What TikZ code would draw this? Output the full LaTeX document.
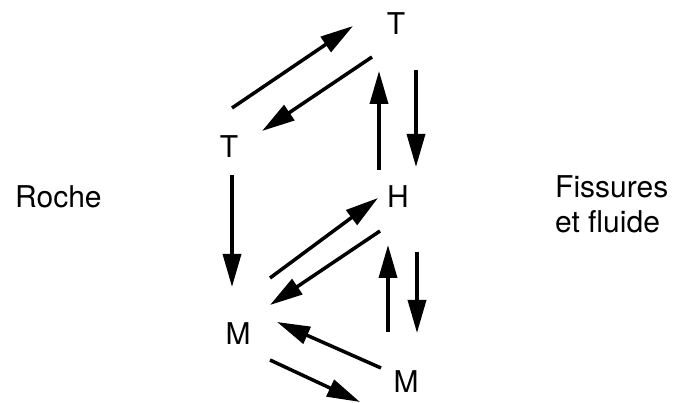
\documentclass[tikz,border=0pt]{standalone}
\usepackage{fontspec}
\setmainfont{TeX Gyre Heros}
\usetikzlibrary{arrows.meta}

\begin{document}
\begin{tikzpicture}[x=1pt,y=-1pt,
  lab/.style={inner sep=0pt,font=\fontsize{30}{35}\selectfont},
  arr/.style={line width=3.5pt,-{Triangle[length=33pt,width=18pt]}}]
\useasboundingbox (0,0) rectangle (678,403);

% the two sides
\node[lab,anchor=base west] (roche) at (15,208) {Roche};
\node[lab,anchor=north west,align=left] (fiss) at (555,175) {Fissures\\et fluide};

% states
\node[lab,anchor=base] (Tt) at (396,35) {T};
\node[lab,anchor=base] (Tl) at (229,158) {T};
\node[lab,anchor=base] (H) at (398,208) {H};
\node[lab,anchor=base] (Ml) at (238,345) {M};
\node[lab,anchor=base] (Mb) at (406,393) {M};

% T <-> T
\draw[arr] ([shift={(3,-50)}]Tl.base) -- ([shift={(-43,-9)}]Tt.base);
\draw[arr] ([shift={(-24,22)}]Tt.base) -- ([shift={(33,-27)}]Tl.base);
% T <-> H
\draw[arr] ([shift={(-19,-38)}]H.base) -- ([shift={(-17,36)}]Tt.base);
\draw[arr] ([shift={(20,35)}]Tt.base) -- ([shift={(18,-41)}]H.base);
% T -> M
\draw[arr] ([shift={(3,17)}]Tl.base) -- ([shift={(-6,-58)}]Ml.base);
% M <-> H
\draw[arr] ([shift={(32,-67)}]Ml.base) -- ([shift={(-20,-10)}]H.base);
\draw[arr] ([shift={(-18,23)}]H.base) -- ([shift={(32,-40)}]Ml.base);
% H <-> M
\draw[arr] ([shift={(-18,-61)}]Mb.base) -- ([shift={(-10,37)}]H.base);
\draw[arr] ([shift={(19,44)}]H.base) -- ([shift={(11,-60)}]Mb.base);
% M <-> M
\draw[arr] ([shift={(-25,-25)}]Mb.base) -- ([shift={(39,-23)}]Ml.base);
\draw[arr] ([shift={(32,15)}]Ml.base) -- ([shift={(-46,9)}]Mb.base);
\end{tikzpicture}
\end{document}
